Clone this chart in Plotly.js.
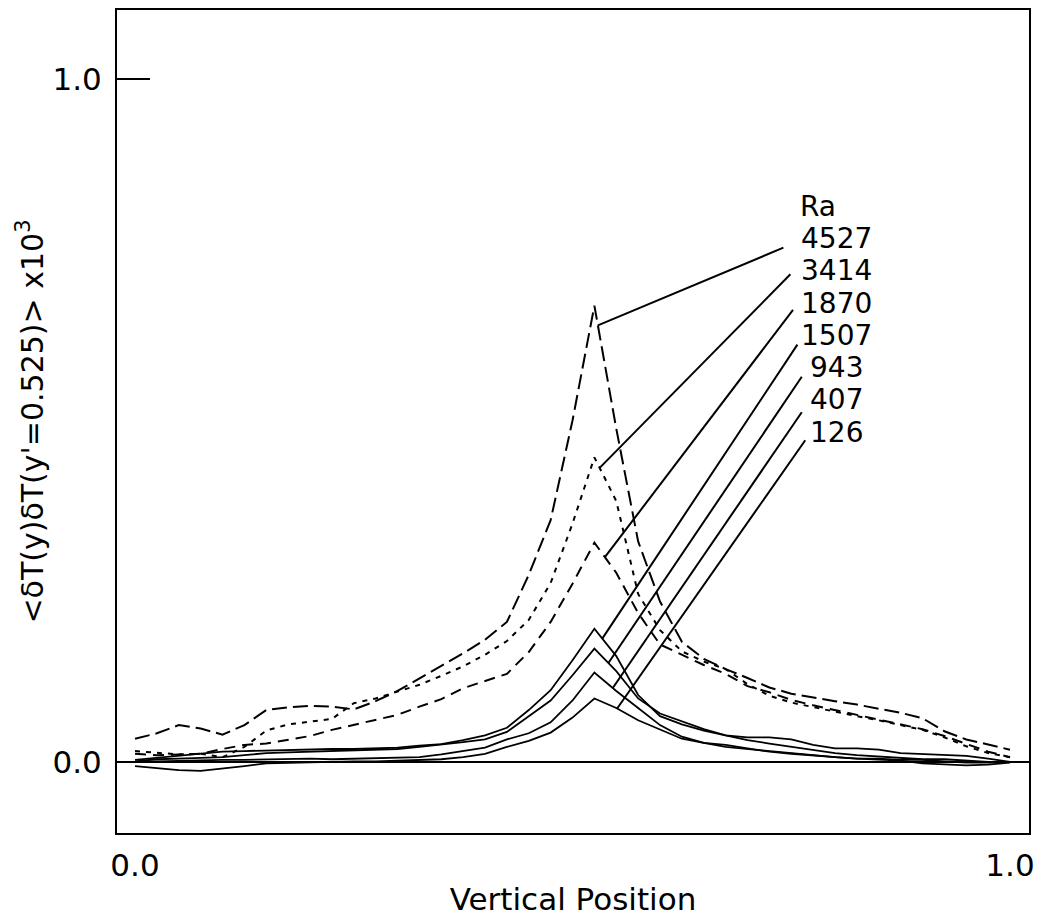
<!DOCTYPE html>
<html><head><meta charset="utf-8">
<script src="https://cdn.plot.ly/plotly-3.0.1.min.js"></script>
<style>html,body{margin:0;padding:0;background:#fff;}#chart{width:1051px;height:922px;}</style>
</head><body><div id="chart"></div>
<script>
const position = [0.000,0.025,0.050,0.075,0.100,0.125,0.150,0.175,0.200,0.225,0.250,0.275,0.300,0.325,0.350,0.375,0.400,0.425,0.450,0.475,0.500,0.525,0.550,0.575,0.600,0.625,0.650,0.675,0.700,0.725,0.750,0.775,0.800,0.825,0.850,0.875,0.900,0.925,0.950,0.975,1.000];

const ra4527 = [0.034,0.042,0.054,0.049,0.040,0.054,0.076,0.080,0.082,0.081,0.077,0.089,0.104,0.122,0.140,0.159,0.179,0.205,0.274,0.354,0.500,0.668,0.488,0.323,0.235,0.176,0.151,0.136,0.123,0.109,0.100,0.094,0.089,0.084,0.078,0.072,0.064,0.045,0.033,0.025,0.018];
const ra3414 = [0.016,0.013,0.011,0.012,0.007,0.022,0.046,0.055,0.059,0.063,0.086,0.093,0.103,0.113,0.126,0.140,0.157,0.177,0.208,0.262,0.349,0.446,0.382,0.246,0.193,0.162,0.147,0.136,0.114,0.097,0.087,0.080,0.073,0.067,0.061,0.054,0.047,0.036,0.023,0.013,0.007];
const ra1870 = [0.012,0.010,0.011,0.012,0.019,0.025,0.027,0.033,0.038,0.047,0.054,0.062,0.069,0.081,0.092,0.108,0.119,0.129,0.161,0.205,0.261,0.321,0.277,0.218,0.172,0.157,0.142,0.129,0.111,0.102,0.091,0.083,0.076,0.070,0.063,0.056,0.048,0.038,0.026,0.015,0.007];
const ra1507 = [0.003,0.006,0.008,0.011,0.015,0.016,0.017,0.018,0.018,0.019,0.019,0.020,0.021,0.024,0.026,0.032,0.039,0.050,0.076,0.105,0.149,0.195,0.155,0.098,0.067,0.055,0.046,0.039,0.036,0.036,0.033,0.025,0.020,0.020,0.018,0.013,0.012,0.011,0.009,0.005,0.000];
const ra943 = [0.001,0.004,0.005,0.006,0.007,0.010,0.013,0.014,0.015,0.016,0.017,0.018,0.019,0.022,0.025,0.029,0.033,0.044,0.067,0.090,0.127,0.166,0.133,0.093,0.071,0.059,0.048,0.039,0.032,0.027,0.022,0.018,0.013,0.010,0.008,0.006,0.004,0.004,0.002,0.000,0.000];
const ra407 = [0.000,0.001,0.002,0.003,0.003,0.003,0.004,0.004,0.005,0.004,0.005,0.005,0.006,0.007,0.011,0.016,0.021,0.033,0.042,0.058,0.090,0.131,0.104,0.079,0.054,0.037,0.028,0.022,0.019,0.015,0.012,0.009,0.007,0.005,0.005,0.003,0.003,0.001,-0.001,-0.001,0.000];
const ra126 = [-0.006,-0.009,-0.012,-0.013,-0.010,-0.006,-0.002,-0.001,0.000,0.000,0.001,0.001,0.002,0.003,0.004,0.007,0.012,0.022,0.031,0.043,0.065,0.093,0.079,0.061,0.048,0.034,0.028,0.025,0.020,0.015,0.012,0.009,0.007,0.005,0.003,0.002,-0.002,-0.003,-0.005,-0.004,-0.001];

const seriesNames = ['4527','3414','1870','1507','943','407','126'];
const seriesValues = [ra4527, ra3414, ra1870, ra1507, ra943, ra407, ra126];
const seriesDash = ['15px,6px','5px,6px','11px,7px','solid','solid','solid','solid'];
const legendTitle = 'Ra';
const xTickLabels = ['0.0','1.0'];
const yTickLabels = ['0.0','1.0'];

// label placement (layout only)
const labelX = 0.802;
const labelY = [0.766,0.719,0.672,0.624,0.577,0.530,0.483];
const titleY = 0.813;
const leaderStart = [[0.741,0.753],[0.749,0.714],[0.752,0.662],[0.757,0.611],[0.762,0.564],[0.762,0.512],[0.766,0.471]];
const leaderEndX = [0.529,0.531,0.537,0.534,0.541,0.546,0.551];

function interp(xs, ys, x){
  for (let i=0;i<xs.length-1;i++){
    if (x>=xs[i] && x<=xs[i+1]){
      const t=(x-xs[i])/(xs[i+1]-xs[i]);
      return ys[i]+t*(ys[i+1]-ys[i]);
    }
  }
  return ys[ys.length-1];
}

const FONT = 'DejaVu Sans, Arial, sans-serif';
const LABEL_SIZE = 28;

const traces = seriesValues.map((v,k)=>({
  x: position, y: v, type:'scatter', mode:'lines', name: seriesNames[k],
  line:{color:'#000', width: k<3?2:1.8, dash: seriesDash[k]},
  hoverinfo:'skip'
}));

const annotations = [{
  x: labelX-0.043, y: titleY, xref:'x', yref:'y', text: legendTitle, showarrow:false,
  xanchor:'left', yanchor:'middle', borderpad:0, font:{family:FONT, size:LABEL_SIZE, color:'#000'}
}];
const shapes = [];
seriesNames.forEach((n,k)=>{
  annotations.push({x: labelX, y: labelY[k], xref:'x', yref:'y', text:n, showarrow:false,
    xanchor:'center', yanchor:'middle', borderpad:0, font:{family:FONT, size:LABEL_SIZE, color:'#000'}});
  const ex = leaderEndX[k];
  const ey = interp(position, seriesValues[k], ex);
  shapes.push({type:'line', xref:'x', yref:'y', x0: leaderStart[k][0], y0: leaderStart[k][1], x1: ex, y1: ey,
    line:{color:'#000', width:2}});
});

const layout = {
  width:1051, height:922,
  margin:{l:117, r:22, t:10, b:89},
  paper_bgcolor:'#fff', plot_bgcolor:'#fff',
  showlegend:false,
  font:{family:FONT, color:'#000', size:31},
  xaxis:{
    range:[-0.0206, 1.0217], showgrid:false, zeroline:false,
    showline:true, mirror:true, linecolor:'#000', linewidth:2,
    tickvals:[0,1], ticktext:xTickLabels, ticks:'', ticklabelstandoff:4,
    tickfont:{family:FONT, size:31, color:'#000'},
    title:{text:'Vertical Position', font:{family:FONT, size:31, color:'#000'}, standoff:6}
  },
  yaxis:{
    range:[-0.104, 1.101], showgrid:false,
    zeroline:true, zerolinecolor:'#000', zerolinewidth:2,
    showline:true, mirror:true, linecolor:'#000', linewidth:2,
    tickvals:[0,1], ticktext:yTickLabels, ticks:'inside', ticklen:33, tickwidth:2, tickcolor:'#000',
    ticklabelstandoff:7,
    tickfont:{family:FONT, size:31, color:'#000'},
    title:{text:"<δT(y)δT(y'=0.525)> x10<sup>3</sup>", font:{family:FONT, size:30, color:'#000'}, standoff:0}
  },
  annotations: annotations,
  shapes: shapes
};

Plotly.newPlot('chart', traces, layout, {staticPlot:true, displayModeBar:false});
</script>
</body></html>
